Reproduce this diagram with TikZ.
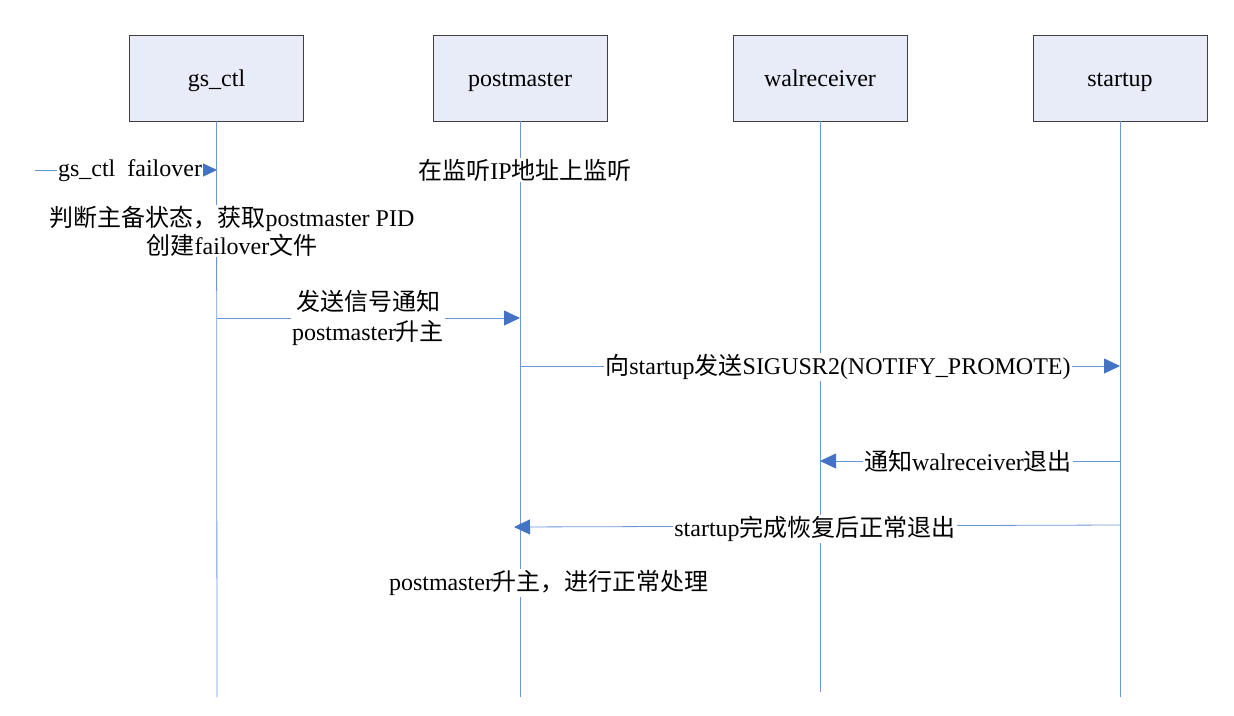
\documentclass[tikz,border=0pt]{standalone}
\usepackage{fontspec}
\setmainfont{Liberation Serif}
\newfontfamily\cjk{Noto Sans CJK SC}
\usetikzlibrary{arrows.meta}
\definecolor{lifeline}{HTML}{6C96D8}
\definecolor{tipblue}{HTML}{4472C4}
\definecolor{boxfill}{HTML}{E8ECF8}
\definecolor{boxdraw}{HTML}{404040}
\begin{document}
\begin{tikzpicture}[x=1pt,y=-1pt,
  actor/.style={draw=boxdraw,fill=boxfill,line width=0.8pt,minimum width=174pt,minimum height=86pt,inner sep=0pt,text height=17pt,text depth=0pt,font=\fontsize{24}{28}\selectfont},
  life/.style={draw=lifeline,line width=0.8pt},
  msg/.style={draw=lifeline,line width=0.8pt,-{Triangle[length=16pt,width=15pt,fill=tipblue,color=tipblue]}},
  lbl/.style={fill=white,inner sep=1pt,font=\fontsize{24}{28}\selectfont,align=center}]
\useasboundingbox (0,0) rectangle (1234,715);
% actors
\node[actor] (gs) at (216.5,78) {gs\_ctl};
\node[actor] (pm) at (520,78) {postmaster};
\node[actor] (wr) at (820,78) {walreceiver};
\node[actor] (st) at (1120,78) {startup};
% lifeline ends
\coordinate (gsE) at (217,697);
\coordinate (pmE) at (520,697);
\coordinate (wrE) at (820,692);
\coordinate (stE) at (1120,697);
\draw[life] (gs.south) -- (gsE);
\draw[life] (pm.south) -- (pmE);
\draw[life] (wr.south) -- (wrE);
\draw[life] (st.south) -- (stE);
% message points
\coordinate (m0s) at (35,170);
\coordinate (m0e) at (217,170);
\coordinate (m1s) at (217,318);
\coordinate (m1e) at (520,318);
\coordinate (m2s) at (520,366);
\coordinate (m2e) at (1120,366);
\coordinate (m3s) at (1120,461);
\coordinate (m3e) at (820,461);
\coordinate (m4s) at (1120,525);
\coordinate (m4e) at (514,527);
% messages
\draw[msg] (m0s) -- (m0e);
\node[lbl] (l0) at (130,171) {gs\_ctl\ \ failover};
\draw[msg] (m1s) -- (m1e);
\node[lbl] (l1) at (368,318) {{\cjk 发送信号通知}\\[2pt]postmaster{\cjk 升主}};
\draw[msg] (m2s) -- (m2e);
\node[lbl] (l2) at (838,367) {{\cjk 向}startup{\cjk 发送}SIGUSR2(NOTIFY\_PROMOTE)};
\draw[msg] (m3s) -- (m3e);
\node[lbl] (l3) at (968,461) {{\cjk 通知}walreceiver{\cjk 退出}};
\draw[msg] (m4s) -- (m4e);
\node[lbl] (l4) at (815,529) {startup{\cjk 完成恢复后正常退出}};
% notes
\node[lbl] (n1) at (525,170) {{\cjk 在监听}IP{\cjk 地址上监听}};
\node[lbl] (n2) at (232,231) {{\cjk 判断主备状态，获取}postmaster PID\\[0pt]{\cjk 创建}failover{\cjk 文件}};
\node[lbl] (n3) at (549,583) {postmaster{\cjk 升主，进行正常处理}};
\end{tikzpicture}
\end{document}
